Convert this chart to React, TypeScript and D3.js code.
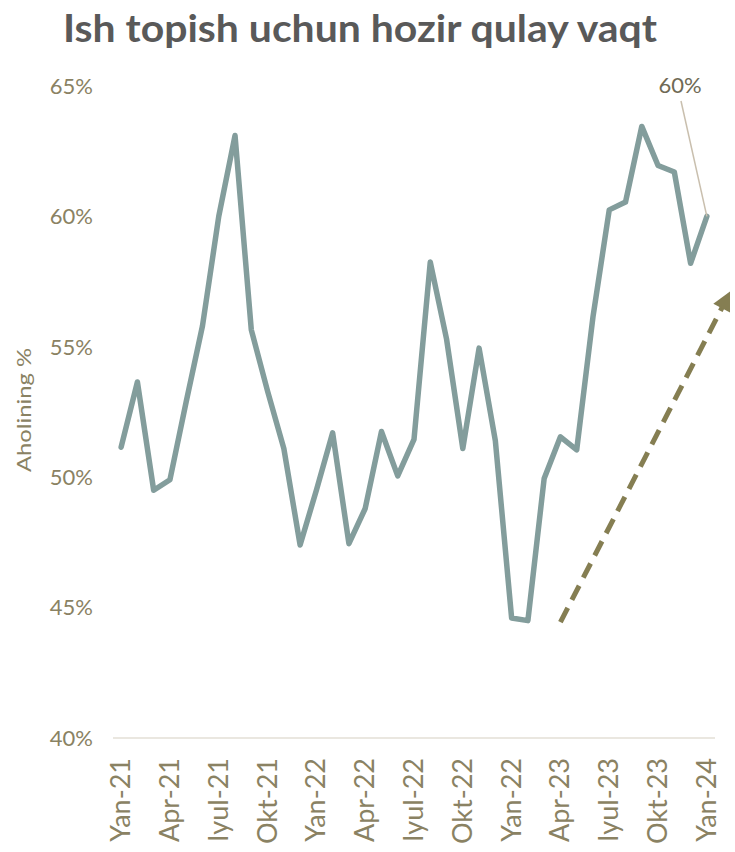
import React from "react";
import * as d3 from "d3";

const WIDTH = 735;
const HEIGHT = 852;

const titleText = "Ish topish uchun hozir qulay vaqt";
const yAxisTitle = "Aholining %";

// monthly values, Jan-2021 .. Jan-2024 (37 months)
const values: number[] = [
  51.15, 53.65, 49.5, 49.9, 52.9, 55.8, 60.0, 63.1, 55.65, 53.3, 51.1, 47.4,
  49.5, 51.7, 47.45, 48.8, 51.75, 50.05, 51.45, 58.25, 55.3, 51.1, 54.95, 51.4,
  44.6, 44.5, 49.95, 51.55, 51.05, 56.15, 60.25, 60.55, 63.45, 61.95, 61.7, 58.2,
  60.0,
];

const tickLabels: string[] = [
  "Yan-21", "Apr-21", "Iyul-21", "Okt-21", "Yan-22", "Apr-22", "Iyul-22",
  "Okt-22", "Yan-22", "Apr-23", "Iyul-23", "Okt-23", "Yan-24",
];
const tickEvery = 3;

const yTicks: number[] = [40, 45, 50, 55, 60, 65];

const lastLabel = "60%";

// trend arrow (index, value) endpoints
const arrowStart: [number, number] = [27.0, 44.44];
const arrowEnd: [number, number] = [37.45, 57.13];

export default function App() {
  const margin = { left: 113, right: 20, top: 86, bottom: 114 };
  const x = d3
    .scaleBand<number>()
    .domain(d3.range(values.length))
    .range([margin.left, WIDTH - margin.right])
    .paddingInner(0)
    .paddingOuter(0);
  const xc = (i: number) => (x(0) as number) + x.bandwidth() * (i + 0.5);
  const y = d3.scaleLinear().domain([40, 65]).range([HEIGHT - margin.bottom, margin.top]);

  const line = d3
    .line<number>()
    .x((_, i) => xc(i))
    .y((d) => y(d));

  const tickColor = "#8a8263";
  const font = "Lato, 'Noto Sans', sans-serif";

  // arrow geometry
  const ax0 = xc(arrowStart[0]);
  const ay0 = y(arrowStart[1]);
  const ax1 = xc(arrowEnd[0]);
  const ay1 = y(arrowEnd[1]);
  const len = Math.hypot(ax1 - ax0, ay1 - ay0);
  const ux = (ax1 - ax0) / len;
  const uy = (ay1 - ay0) / len;
  const headLen = 19;
  const headHalf = 9.5;
  const bx = ax1 - ux * headLen;
  const by = ay1 - uy * headLen;
  const px = -uy;
  const py = ux;
  const head = `M${ax1},${ay1}L${bx + px * headHalf},${by + py * headHalf}L${bx - px * headHalf},${by - py * headHalf}Z`;

  const lastI = values.length - 1;

  return (
    <svg
      width={WIDTH}
      height={HEIGHT}
      style={{ position: "absolute", left: 0, top: 0, background: "#fff" }}
    >
      <defs>
        <clipPath id="plotclip">
          <rect x={0} y={0} width={730} height={HEIGHT} />
        </clipPath>
      </defs>
      <text
        x={360}
        y={42}
        textAnchor="middle"
        fontFamily={font}
        fontWeight={700}
        fontSize={38}
        fill="#595959"
        textLength={594}
        lengthAdjust="spacingAndGlyphs"
      >
        {titleText}
      </text>

      {yTicks.map((t) => (
        <text
          key={t}
          x={93}
          y={y(t)}
          dy="0.35em"
          textAnchor="end"
          fontFamily={font}
          fontSize={22}
          fill={tickColor}
        >
          {t}%
        </text>
      ))}

      <text
        transform={`translate(31,${410}) rotate(-90)`}
        textAnchor="middle"
        fontFamily={font}
        fontSize={19}
        fill={tickColor}
        textLength={124}
        lengthAdjust="spacingAndGlyphs"
      >
        {yAxisTitle}
      </text>

      <line
        x1={margin.left}
        x2={WIDTH - margin.right}
        y1={y(40)}
        y2={y(40)}
        stroke="#e3dfd6"
        strokeWidth={1.5}
      />

      {tickLabels.map((lab, k) => {
        const cx = xc(k * tickEvery);
        return (
          <text
            key={k}
            transform={`translate(${cx + 9},${758}) rotate(-90)`}
            textAnchor="end"
            fontFamily={font}
            fontSize={27}
            fill={tickColor}
          >
            {lab}
          </text>
        );
      })}

      <path
        d={line(values) || ""}
        fill="none"
        stroke="#839d9c"
        strokeWidth={5.5}
        strokeLinejoin="round"
        strokeLinecap="round"
      />

      <g clipPath="url(#plotclip)">
        <line
          x1={ax0}
          y1={ay0}
          x2={bx + ux * 2}
          y2={by + uy * 2}
          stroke="#857e52"
          strokeWidth={5}
          strokeDasharray="16,9"
        />
        <path d={head} fill="#857e52" />
      </g>

      <line
        x1={681}
        y1={101}
        x2={xc(lastI)}
        y2={y(values[lastI])}
        stroke="#c9bfae"
        strokeWidth={1.5}
      />
      <text
        x={680}
        y={93}
        textAnchor="middle"
        fontFamily={font}
        fontSize={22}
        fill="#6f6a55"
      >
        {lastLabel}
      </text>
    </svg>
  );
}
